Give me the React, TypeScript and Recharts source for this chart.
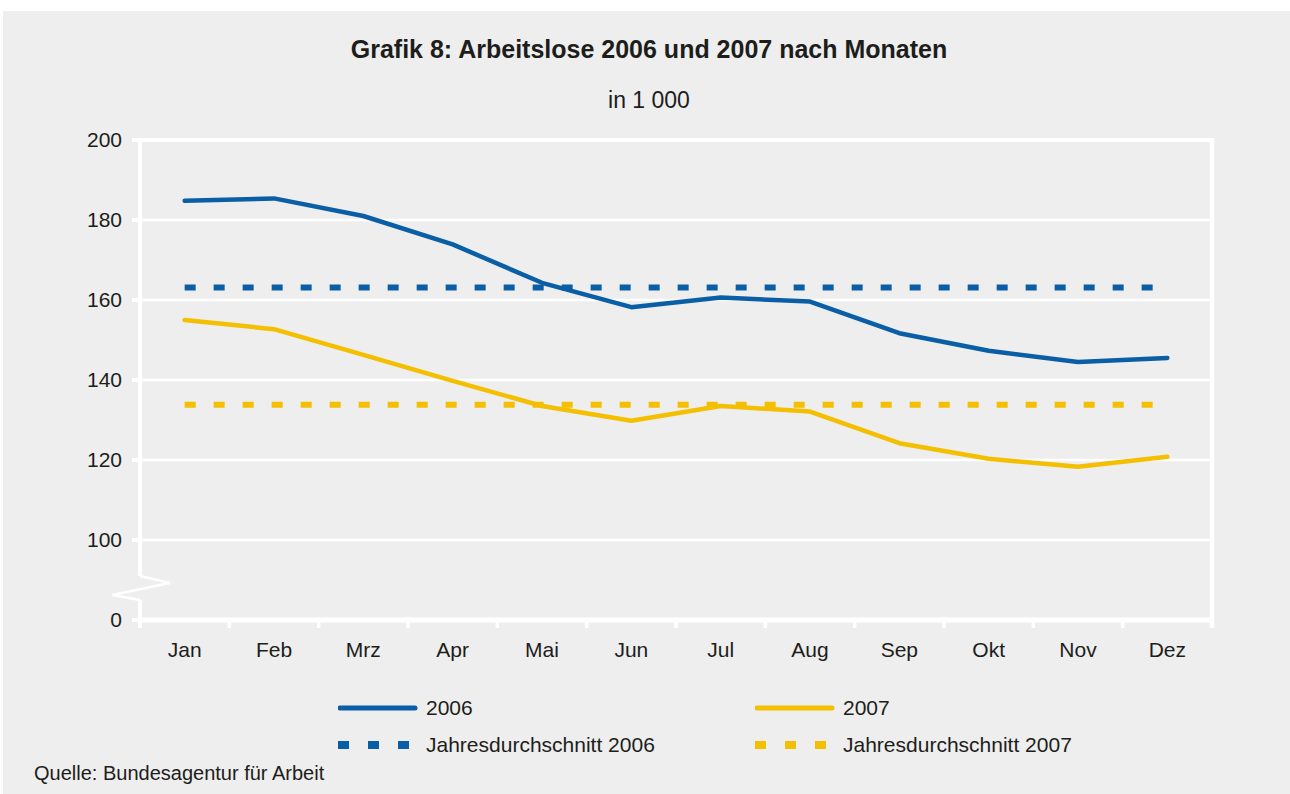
import React from 'react';
import {
  LineChart,
  Line,
  XAxis,
  YAxis,
  CartesianGrid,
  ReferenceLine,
  ReferenceArea
} from 'recharts';

const MONTHS = ['Jan', 'Feb', 'Mrz', 'Apr', 'Mai', 'Jun', 'Jul', 'Aug', 'Sep', 'Okt', 'Nov', 'Dez'];
const VALUES_2006 = [184.8, 185.4, 181, 173.9, 164.3, 158.2, 160.6, 159.6, 151.7, 147.3, 144.5, 145.5];
const VALUES_2007 = [155, 152.7, 146.3, 139.8, 133.5, 129.8, 133.5, 132.1, 124.2, 120.3, 118.3, 120.8];
const AVG_2006 = 163.1;
const AVG_2007 = 133.8;

// the axis is broken between 0 and 100, so "0" sits one step below 100
const Y_TICKS = [80, 100, 120, 140, 160, 180, 200];
const Y_TICK_LABELS = ['0', '100', '120', '140', '160', '180', '200'];
const BREAK_FROM = 85;
const BREAK_TO = 91;

const BLUE = '#0a5ea6';
const YELLOW = '#f4bf00';
const BG = '#edeeed';
const INK = '#1d1d1b';
const FONT = '"Liberation Sans", Arial, sans-serif';

const data = MONTHS.map((month, i) => ({ month, y2006: VALUES_2006[i], y2007: VALUES_2007[i] }));

const Y_MIN = Y_TICKS[0];
const Y_MAX = Y_TICKS[Y_TICKS.length - 1];

// white frame: left axis with the break, top + right border, month boundary ticks.
// the area rect spans the padded x range, so widen it back by the edge padding
const makePlotFrame = (edgePad: number) => (props: any) => {
  const { y, height } = props;
  const x = props.x - edgePad;
  const width = props.width + 2 * edgePad;
  const toY = (v: number) => y + (height * (Y_MAX - v)) / (Y_MAX - Y_MIN);
  const bt = toY(BREAK_TO);
  const bb = toY(BREAK_FROM);
  const bottom = y + height;
  const step = width / MONTHS.length;
  return (
    <g>
      <line x1={x} y1={y} x2={x + width} y2={y} stroke="#fff" strokeWidth={4} />
      <line x1={x + width} y1={y - 2} x2={x + width} y2={bottom + 8} stroke="#fff" strokeWidth={4.5} />
      <line x1={x} y1={y - 2} x2={x} y2={bt} stroke="#fff" strokeWidth={4} />
      <polyline
        points={`${x},${bt} ${x + 30},${bt + 7} ${x - 28},${bb - 5} ${x},${bb}`}
        fill="none"
        stroke="#fff"
        strokeWidth={2.5}
      />
      <line x1={x} y1={bb} x2={x} y2={bottom + 8} stroke="#fff" strokeWidth={4} />
      {MONTHS.map((m, i) => (
        <line key={m} x1={x + i * step} y1={bottom} x2={x + i * step} y2={bottom + 8} stroke="#fff" strokeWidth={3.5} />
      ))}
    </g>
  );
};

const LegendItem: React.FC<{ color: string; dashed?: boolean; label: string; left: number; top: number }> = ({
  color,
  dashed,
  label,
  left,
  top
}) => (
  <div style={{ position: 'absolute', left, top, display: 'flex', alignItems: 'center', height: 24 }}>
    <svg width={88} height={24}>
      {dashed ? (
        <line x1={0} y1={12} x2={80} y2={12} stroke={color} strokeWidth={8} strokeDasharray="11 19" />
      ) : (
        <line x1={2} y1={12} x2={77} y2={12} stroke={color} strokeWidth={5} strokeLinecap="round" />
      )}
    </svg>
    <span style={{ fontSize: 21, color: INK, whiteSpace: 'nowrap' }}>{label}</span>
  </div>
);

export default function App() {
  const chartWidth = 1290;
  const margin = { top: 140, right: 78, left: 80, bottom: 20 };
  const plotWidth = chartWidth - 60 - margin.left - margin.right;
  const edgePad = plotWidth / (MONTHS.length * 2);
  const PlotFrame = makePlotFrame(edgePad);

  return (
    <div style={{ position: 'relative', width: 1290, height: 794, background: '#fff', fontFamily: FONT }}>
      <style>{'body{margin:0}'}</style>
      <div style={{ position: 'absolute', left: 3, top: 11, right: 0, bottom: 0, background: BG }} />

      <div style={{ position: 'absolute', left: 0, right: 0, top: 35, textAlign: 'center', paddingLeft: 8 }}>
        <div style={{ fontSize: 25, fontWeight: 700, color: INK }}>Grafik 8: Arbeitslose 2006 und 2007 nach Monaten</div>
      </div>
      <div style={{ position: 'absolute', left: 0, right: 0, top: 87, textAlign: 'center', paddingLeft: 8 }}>
        <div style={{ fontSize: 23, color: INK }}>in 1 000</div>
      </div>

      <div style={{ position: 'absolute', left: 0, top: 0 }}>
        <LineChart width={chartWidth} height={680} data={data} margin={margin}>
          <CartesianGrid vertical={false} stroke="#fff" strokeWidth={2.5} />
          <XAxis
            dataKey="month"
            height={40}
            padding={{ left: edgePad, right: edgePad }}
            axisLine={{ stroke: '#fff', strokeWidth: 5 }}
            tickLine={false}
            tickSize={8}
            tickMargin={14}
            tick={{ fill: INK, fontSize: 21, fontFamily: FONT }}
          />
          <YAxis
            width={60}
            type="number"
            domain={[Y_MIN, Y_MAX]}
            ticks={Y_TICKS}
            interval={0}
            tickFormatter={(v: number) => Y_TICK_LABELS[Y_TICKS.indexOf(v)]}
            axisLine={false}
            tickLine={{ stroke: '#fff', strokeWidth: 4 }}
            tickSize={8}
            tickMargin={10}
            tick={{ fill: INK, fontSize: 21, fontFamily: FONT }}
          />
          <ReferenceArea y1={Y_MIN} y2={Y_MAX} ifOverflow="visible" shape={PlotFrame} />
          <ReferenceLine
            segment={[{ x: MONTHS[0], y: AVG_2006 }, { x: MONTHS[MONTHS.length - 1], y: AVG_2006 }]}
            stroke={BLUE}
            strokeWidth={6}
            strokeDasharray="11 18"
          />
          <ReferenceLine
            segment={[{ x: MONTHS[0], y: AVG_2007 }, { x: MONTHS[MONTHS.length - 1], y: AVG_2007 }]}
            stroke={YELLOW}
            strokeWidth={6}
            strokeDasharray="11 18"
          />
          <Line
            type="linear"
            dataKey="y2006"
            stroke={BLUE}
            strokeWidth={4.5}
            strokeLinecap="round"
            strokeLinejoin="round"
            dot={false}
            isAnimationActive={false}
          />
          <Line
            type="linear"
            dataKey="y2007"
            stroke={YELLOW}
            strokeWidth={4.5}
            strokeLinecap="round"
            strokeLinejoin="round"
            dot={false}
            isAnimationActive={false}
          />
        </LineChart>
      </div>

      <LegendItem color={BLUE} label="2006" left={338} top={696} />
      <LegendItem color={YELLOW} label="2007" left={755} top={696} />
      <LegendItem color={BLUE} dashed label="Jahresdurchschnitt 2006" left={338} top={733} />
      <LegendItem color={YELLOW} dashed label="Jahresdurchschnitt 2007" left={755} top={733} />

      <div style={{ position: 'absolute', left: 34, top: 762, fontSize: 20, color: INK }}>
        Quelle: Bundesagentur für Arbeit
      </div>
    </div>
  );
}
